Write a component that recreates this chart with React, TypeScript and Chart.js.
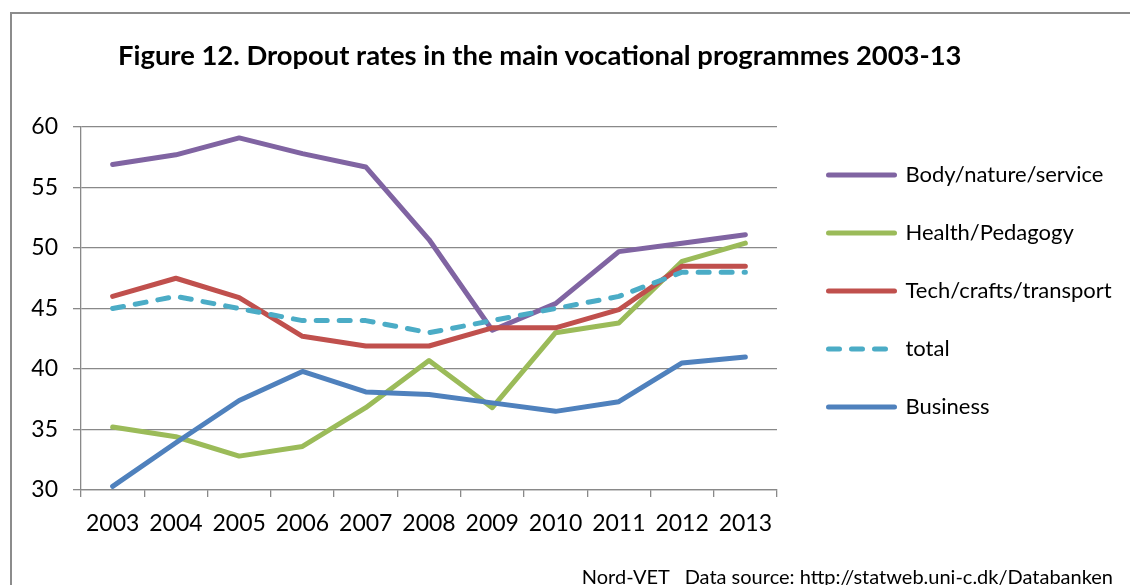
import React, { useEffect, useRef } from "react";
import { Chart, registerables } from "chart.js";

Chart.register(...registerables);

// ---- data ----
const years = ["2003", "2004", "2005", "2006", "2007", "2008", "2009", "2010", "2011", "2012", "2013"];
const bodyNatureService = [56.9, 57.7, 59.1, 57.8, 56.7, 50.7, 43.2, 45.4, 49.7, 50.4, 51.1];
const healthPedagogy = [35.2, 34.4, 32.8, 33.6, 36.8, 40.7, 36.8, 43.0, 43.8, 48.9, 50.4];
const techCraftsTransport = [46.0, 47.5, 45.9, 42.7, 41.9, 41.9, 43.4, 43.4, 44.9, 48.5, 48.5];
const total = [45, 46, 45, 44, 44, 43, 44, 45, 46, 48, 48];
const business = [30.3, 33.9, 37.4, 39.8, 38.1, 37.9, 37.2, 36.5, 37.3, 40.5, 41.0];
const seriesLabels = ["Body/nature/service", "Health/Pedagogy", "Tech/crafts/transport", "total", "Business"];
const yMin = 30;
const yMax = 60;
const yStep = 5;

const titleText = "Figure 12. Dropout rates in the main vocational programmes 2003-13";
const footerText = "Nord-VET   Data source: http://statweb.uni-c.dk/Databanken";

// ---- styles ----
const FONT = "Lato, 'Open Sans', sans-serif";
const GRID = "#898989";
const W = 1130;
const H = 585;
const LEGEND_FONT = 22;
const LEGEND_PAD = 36;
const LEGEND_LINE = 66;
const LEGEND_LEFT = 792.5;

export default function App() {
  const ref = useRef<HTMLCanvasElement | null>(null);

  useEffect(() => {
    const canvas = ref.current;
    if (!canvas) return;

    const mctx = document.createElement("canvas").getContext("2d")!;
    mctx.font = `${LEGEND_FONT}px ${FONT}`;
    const maxText = Math.max(...seriesLabels.map((l) => mctx.measureText(l).width));
    const legendWidth = LEGEND_PAD + LEGEND_LINE + LEGEND_FONT / 2 + maxText + 10;
    const padRight = Math.max(0, W - LEGEND_LEFT - legendWidth);

    const values = [bodyNatureService, healthPedagogy, techCraftsTransport, total, business];
    const colors = ["#8064A2", "#9BBB59", "#C0504D", "#4BACC6", "#4F81BD"];
    const dashes = [[], [], [], [11, 12], []];

    const chart = new Chart(canvas, {
      type: "line",
      data: {
        labels: years,
        datasets: values.map((v, i) => ({
          label: seriesLabels[i],
          data: v,
          borderColor: colors[i],
          backgroundColor: colors[i],
          borderWidth: 5,
          borderCapStyle: "round" as const,
          borderJoinStyle: "round" as const,
          borderDash: dashes[i],
          pointRadius: 0,
          pointHoverRadius: 0,
          tension: 0,
          fill: false,
          order: 5 - i,
        })),
      },
      options: {
        responsive: false,
        animation: false,
        events: [],
        layout: { padding: { left: 10, top: 0, right: padRight, bottom: 3 } },
        plugins: {
          title: { display: false },
          tooltip: { enabled: false },
          legend: {
            display: true,
            position: "right",
            align: "center",
            maxWidth: 500,
            labels: {
              usePointStyle: true,
              pointStyle: "line",
              pointStyleWidth: LEGEND_LINE,
              padding: LEGEND_PAD,
              color: "#000",
              font: { family: FONT, size: LEGEND_FONT },
              sort: (a: any, b: any) => a.datasetIndex - b.datasetIndex,
              generateLabels: (ch: any) => {
                const items = (Chart.defaults.plugins.legend.labels as any).generateLabels(ch);
                items.forEach((it: any) => {
                  const i = it.datasetIndex;
                  it.lineDash = dashes[i];
                  it.lineWidth = 5;
                  it.lineCap = "round";
                  it.strokeStyle = colors[i];
                  it.fillStyle = colors[i];
                  it.pointStyle = "line";
                });
                return items;
              },
            },
          },
        },
        scales: {
          x: {
            type: "category",
            position: "bottom",
            offset: true,
            grid: {
              offset: true,
              drawOnChartArea: false,
              drawTicks: true,
              tickLength: 7,
              color: GRID,
              lineWidth: 1.3,
            },
            border: { display: true, color: GRID, width: 1.3 },
            ticks: {
              color: "#000",
              font: { family: FONT, size: 23 },
              padding: 13,
              maxRotation: 0,
              autoSkip: false,
            },
            afterFit: (s: any) => {
              s.height = 92;
            },
          },
          xTop: {
            type: "category",
            position: "top",
            display: true,
            grid: { display: false },
            border: { display: false },
            ticks: { display: false },
            afterFit: (s: any) => {
              s.height = 127;
            },
          },
          y: {
            type: "linear",
            position: "left",
            min: yMin,
            max: yMax,
            ticks: {
              stepSize: yStep,
              color: "#000",
              font: { family: FONT, size: 23 },
              padding: 15,
            },
            grid: {
              color: GRID,
              lineWidth: 1.3,
              drawTicks: true,
              tickLength: 8,
            },
            border: { display: true, color: GRID, width: 1.3 },
            afterFit: (s: any) => {
              s.width = 71;
            },
          },
          yGap: {
            type: "linear",
            position: "right",
            display: true,
            grid: { display: false },
            border: { display: false },
            ticks: { display: false },
            afterFit: (s: any) => {
              s.width = LEGEND_LEFT - 777;
            },
          },
        },
      },
    } as any);

    return () => chart.destroy();
  }, []);

  return (
    <div style={{ position: "absolute", left: 0, top: 0, width: W, height: H, overflow: "hidden", background: "#fff" }}>
      <div
        style={{
          position: "absolute",
          left: 10,
          top: 12,
          width: 1300,
          height: 800,
          border: "2px solid #8c8c8c",
          boxSizing: "border-box",
        }}
      />
      <canvas ref={ref} width={W} height={H} style={{ position: "absolute", left: 0, top: 0, width: W, height: H }} />
      <div
        style={{
          position: "absolute",
          left: 118,
          top: 38,
          fontFamily: FONT,
          fontWeight: 700,
          fontSize: 27.4,
          lineHeight: "34px",
          color: "#000",
          whiteSpace: "nowrap",
        }}
      >
        {titleText}
      </div>
      <div
        style={{
          position: "absolute",
          right: 17,
          top: 563,
          fontFamily: FONT,
          fontSize: 20,
          lineHeight: "26px",
          color: "#000",
          whiteSpace: "pre",
        }}
      >
        {footerText}
      </div>
    </div>
  );
}
